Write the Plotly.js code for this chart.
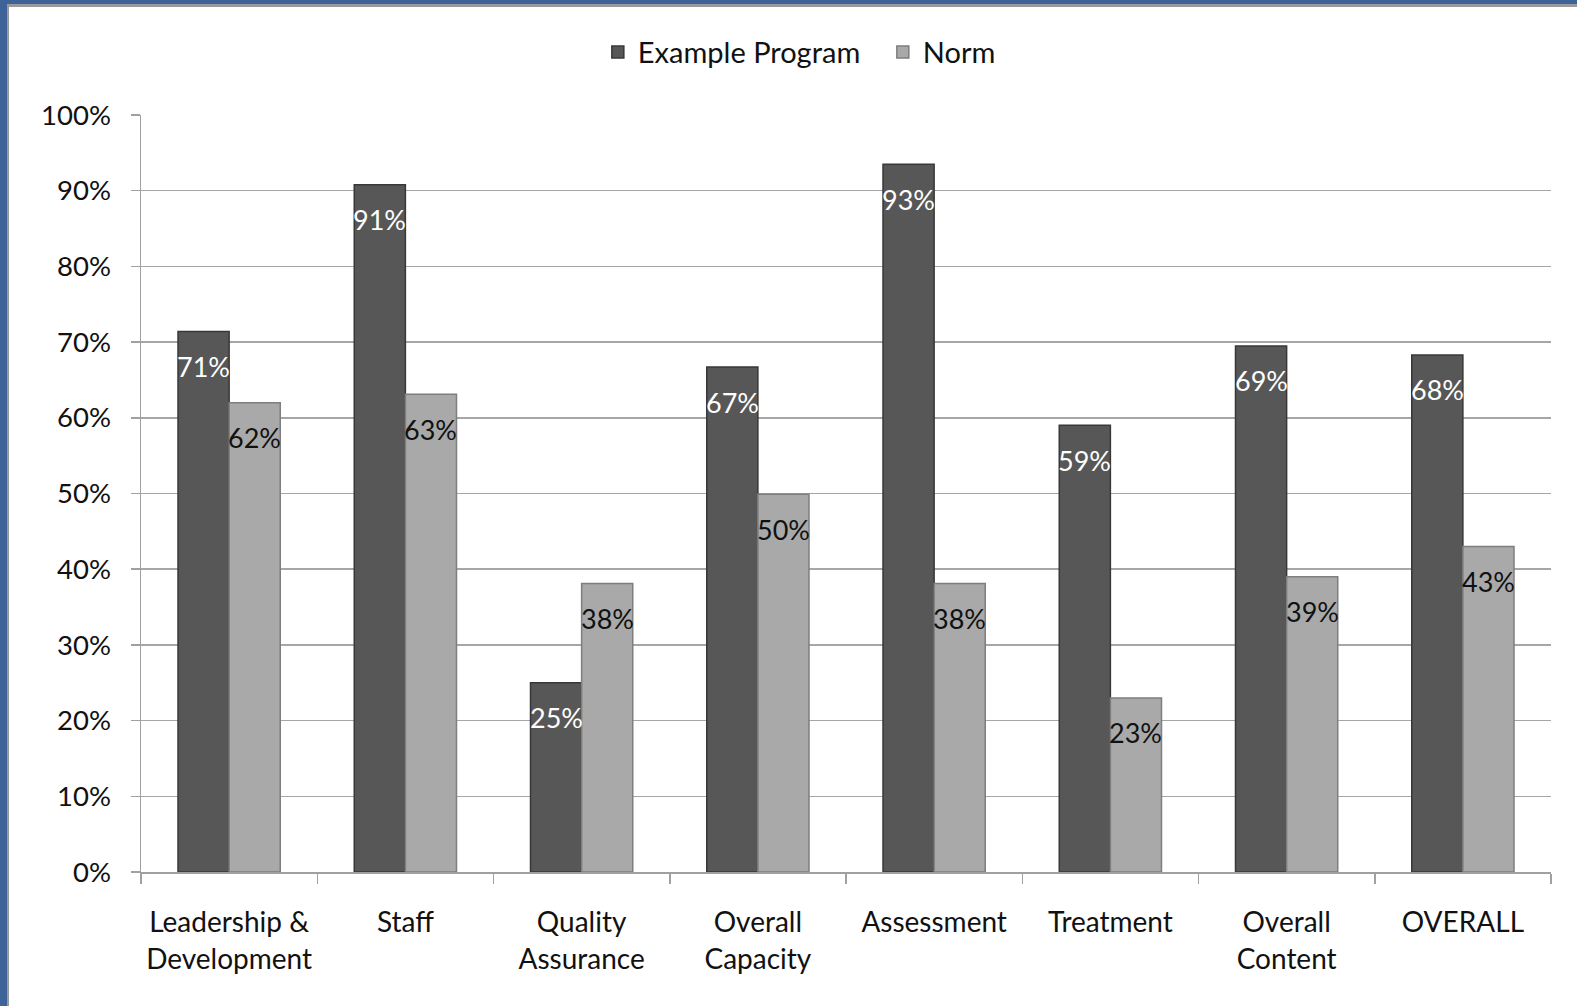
<!DOCTYPE html>
<html>
<head>
<meta charset="utf-8">
<script src="https://cdn.plot.ly/plotly-3.0.1.min.js"></script>
<style>
  html, body { margin: 0; padding: 0; background: #3d6398; width: 1577px; height: 1006px; overflow: hidden; }
  #frame { position: absolute; left: 7px; top: 4px; width: 1570px; height: 1002px; background: #9a9a9a; }
  #chart { position: absolute; left: 9px; top: 7px; width: 1568px; height: 999px; background: #fff; }
</style>
</head>
<body>
<div id="frame"></div>
<div id="chart"></div>
<script>
const categories = ["Leadership &<br>Development", "Staff", "Quality<br>Assurance", "Overall<br>Capacity",
                    "Assessment", "Treatment", "Overall<br>Content", "OVERALL"];
const programValues = [71.4, 90.8, 25.0, 66.7, 93.5, 59.0, 69.5, 68.3];
const normValues    = [62.0, 63.1, 38.1, 49.9, 38.1, 23.0, 39.0, 43.0];
const programLabels = ["71%", "91%", "25%", "67%", "93%", "59%", "69%", "68%"];
const normLabels    = ["62%", "63%", "38%", "50%", "38%", "23%", "39%", "43%"];
const yTickVals = [0, 10, 20, 30, 40, 50, 60, 70, 80, 90, 100];
const yTickText = ["0%", "10%", "20%", "30%", "40%", "50%", "60%", "70%", "80%", "90%", "100%"];

const FONT = "Lato, 'Open Sans', sans-serif";

const traces = [
  {
    type: "bar", name: "Example Program", x: categories, y: programValues,
    marker: { color: "#575757", line: { color: "#383838", width: 1.5 } },
    hoverinfo: "skip"
  },
  {
    type: "bar", name: "Norm", x: categories, y: normValues,
    marker: { color: "#a9a9a9", line: { color: "#7e7e7e", width: 1.5 } },
    hoverinfo: "skip"
  }
];

const annotations = [];
categories.forEach((c, i) => {
  annotations.push({ x: c, y: programValues[i], xref: "x", yref: "y", text: programLabels[i],
    showarrow: false, xshift: -25.6, yshift: -35, yanchor: "middle",
    font: { family: FONT, size: 27, color: "#ffffff" } });
  annotations.push({ x: c, y: normValues[i], xref: "x", yref: "y", text: normLabels[i],
    showarrow: false, xshift: 25.6, yshift: -35, yanchor: "middle",
    font: { family: FONT, size: 27, color: "#111111" } });
});

const layout = {
  width: 1568, height: 999,
  margin: { l: 132, r: 26, t: 108, b: 134 },
  paper_bgcolor: "#ffffff", plot_bgcolor: "#ffffff",
  font: { family: FONT, size: 28, color: "#111111" },
  barmode: "group", bargap: 0.42, bargroupgap: 0,
  showlegend: true,
  legend: { orientation: "h", x: 0.324, xanchor: "left", y: 1.083, yanchor: "middle",
            font: { family: FONT, size: 29, color: "#111111" }, itemwidth: 30,
            entrywidth: 240, entrywidthmode: "pixels" },
  xaxis: {
    type: "category", showline: true, linecolor: "#a0a0a0", linewidth: 1.5,
    ticks: "outside", tickson: "boundaries", ticklen: 10, tickcolor: "#a0a0a0", tickwidth: 1.5,
    showgrid: false, tickangle: 0, tickfont: { family: FONT, size: 28, color: "#111111" },
    ticklabelstandoff: 25
  },
  yaxis: {
    range: [0, 100], tickvals: yTickVals, ticktext: yTickText,
    showline: true, linecolor: "#a0a0a0", linewidth: 1.5,
    ticks: "outside", ticklen: 9, tickcolor: "#a0a0a0", tickwidth: 1.5,
    showgrid: true, gridcolor: "#a6a6a6", gridwidth: 1.5, zeroline: false,
    tickfont: { family: FONT, size: 27.5, color: "#111111" },
    ticklabelstandoff: 14
  },
  annotations: annotations
};

Plotly.newPlot("chart", traces, layout, { displayModeBar: false, staticPlot: true });
</script>
</body>
</html>
